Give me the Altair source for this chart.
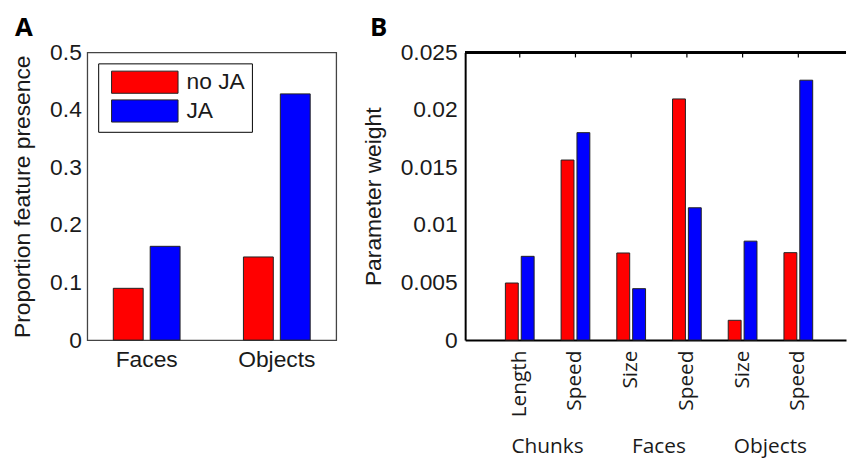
import altair as alt
import pandas as pd

# ---------------- data ----------------
panel_letters = ["A", "B"]

A_groups = ["Faces", "Objects"]
A_noJA = [0.090, 0.1445]
A_JA = [0.163, 0.428]

B_groups = ["Chunks", "Chunks", "Faces", "Faces", "Objects", "Objects"]
B_params = ["Length", "Speed", "Size", "Speed", "Size", "Speed"]
B_noJA = [0.00496, 0.01565, 0.00757, 0.02096, 0.00172, 0.0076]
B_JA = [0.00728, 0.01803, 0.00447, 0.0115, 0.0086, 0.02259]

conds = ["no JA", "JA"]
cond_colors = ["#ff0000", "#0000ff"]

rowsA = []
for g, a, b in zip(A_groups, A_noJA, A_JA):
    rowsA.append({"group": g, "cond": "no JA", "value": a})
    rowsA.append({"group": g, "cond": "JA", "value": b})
dfA = pd.DataFrame(rowsA)

keys = [f"{g}|{p}" for g, p in zip(B_groups, B_params)]
rowsB = []
for k, a, b in zip(keys, B_noJA, B_JA):
    rowsB.append({"key": k, "cond": "no JA", "value": a})
    rowsB.append({"key": k, "cond": "JA", "value": b})
dfB = pd.DataFrame(rowsB)

group_names = ["Chunks", "Faces", "Objects"]
dfG = pd.DataFrame({"key": [keys[0], keys[2], keys[4]], "label": group_names})
dfT = pd.DataFrame({"key": keys})
dfLA = pd.DataFrame({"letter": [panel_letters[0]]})
dfLB = pd.DataFrame({"letter": [panel_letters[1]]})

HELV = "Liberation Sans"
HUM = "Open Sans"
TXT = "#1a1a1a"

color_scale = alt.Scale(domain=conds, range=cond_colors)


def letter(df, dx):
    return alt.Chart(df).mark_text(font=HUM, fontSize=26, fontWeight="bold",
                                   color="black", align="left",
                                   baseline="alphabetic").encode(
        x=alt.value(dx), y=alt.value(-17), text="letter:N"
    )


# ---------------- panel A ----------------
WA, HA = 251, 290
barsA = alt.Chart(dfA).mark_bar(stroke="#222222", strokeWidth=1).encode(
    x=alt.X("group:N", sort=A_groups,
            scale=alt.Scale(paddingInner=0.487, paddingOuter=0.2),
            axis=alt.Axis(title=None, labelAngle=0, ticks=False, domain=False,
                          labelPadding=9, labelFont=HELV, labelFontSize=23,
                          labelColor=TXT)),
    xOffset=alt.XOffset("cond:N", sort=conds,
                        scale=alt.Scale(paddingInner=0.19, paddingOuter=0)),
    y=alt.Y("value:Q", scale=alt.Scale(domain=[0, 0.5], nice=False),
            axis=alt.Axis(title="Proportion feature presence",
                          values=[0, 0.1, 0.2, 0.3, 0.4, 0.5], format=".1~f",
                          grid=False, ticks=False, domain=False,
                          labelPadding=6, labelFont=HELV, labelFontSize=23,
                          labelColor=TXT, titleFont=HELV, titleFontSize=23,
                          titleFontWeight="normal", titleColor=TXT,
                          titlePadding=15)),
    color=alt.Color("cond:N", sort=conds, scale=color_scale,
                    legend=alt.Legend(title=None, orient="none", legendX=11,
                                      legendY=11, strokeColor="black",
                                      fillColor="white", padding=7,
                                      symbolType="M-3,-1H3V1H-3Z",
                                      symbolSize=499, symbolStrokeColor="#222222",
                                      symbolStrokeWidth=1, symbolOpacity=1,
                                      symbolOffset=28,
                                      labelFont=HELV, labelFontSize=23,
                                      labelColor=TXT, labelOffset=30,
                                      labelExpr="datum.label + ' '",
                                      rowPadding=1)),
)

panelA = alt.layer(barsA, letter(dfLA, -73)).properties(
    width=WA, height=HA,
    view=alt.ViewBackground(stroke="#444444", strokeWidth=1.3),
)

# ---------------- panel B ----------------
WB, HB = 384, 290
xB = alt.X("key:N", sort=keys,
           scale=alt.Scale(paddingInner=0.484, paddingOuter=0.66, align=0.547),
           axis=alt.Axis(title=None, labelExpr="split(datum.label, '|')[1]",
                         labelAngle=270, ticks=False, domain=True,
                         domainColor="black", domainWidth=2, labelPadding=10,
                         labelFont=HUM, labelFontSize=21, labelColor=TXT))

barsB = alt.Chart(dfB).mark_bar(stroke="#222222", strokeWidth=1).encode(
    x=xB,
    xOffset=alt.XOffset("cond:N", sort=conds,
                        scale=alt.Scale(paddingInner=0.1875, paddingOuter=0)),
    y=alt.Y("value:Q", scale=alt.Scale(domain=[0, 0.025], nice=False),
            axis=alt.Axis(title="Parameter weight",
                          values=[0, 0.005, 0.01, 0.015, 0.02, 0.025],
                          format=".3~f", grid=False, ticks=False, domain=True,
                          domainColor="black", domainWidth=2,
                          labelPadding=8, labelFont=HELV, labelFontSize=23,
                          labelColor=TXT, titleFont=HELV, titleFontSize=23,
                          titleFontWeight="normal", titleColor=TXT,
                          titlePadding=15)),
    color=alt.Color("cond:N", sort=conds, scale=color_scale, legend=None),
)

topB = alt.Chart(dfT).mark_rule(color="black", strokeWidth=2).encode(
    x=alt.value(0), x2=alt.value(WB), y=alt.value(0)
)
ticksB = alt.Chart(dfT).mark_rule(color="black", strokeWidth=1.2).encode(
    x=alt.X("key:N", sort=keys), y=alt.value(0), y2=alt.value(5)
)
groupB = alt.Chart(dfG).mark_text(font=HUM, fontSize=21, color=TXT,
                                   baseline="alphabetic", dx=28).encode(
    x=alt.X("key:N", sort=keys), y=alt.value(HB + 114), text="label:N"
)

panelB = alt.layer(barsB, topB, ticksB, groupB, letter(dfLB, -96)).properties(
    width=WB, height=HB,
    view=alt.ViewBackground(stroke=None),
)

chart = alt.hconcat(panelA, panelB, spacing=25).resolve_scale(
    xOffset="independent"
).properties(
    padding={"left": 11, "top": 12, "right": 0, "bottom": 0},
    background="white",
).configure_view(strokeWidth=1.3)

chart.save("out.html", embed_options={"renderer": "svg", "actions": False})
